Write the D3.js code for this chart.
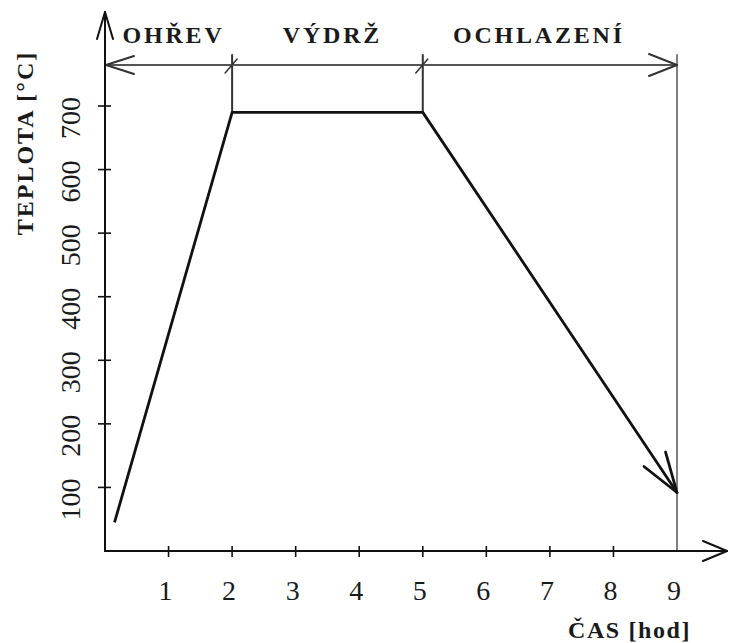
<!DOCTYPE html>
<html>
<head>
<meta charset="utf-8">
<script src="https://cdn.jsdelivr.net/npm/d3@7"></script>
<style>
  body { margin: 0; background: #fff; }
  text { font-family: "Liberation Serif", "Times New Roman", serif; fill: #1a1a1a; }
</style>
</head>
<body>
<script>
'use strict';

// data
const phases = ['OHŘEV', 'VÝDRŽ', 'OCHLAZENÍ'];
const phaseBounds = [0, 2, 5, 9];
const times = [0.15, 2, 5, 9];
const temps = [45, 690, 690, 92];
const xTicks = [1, 2, 3, 4, 5, 6, 7, 8, 9];
const yTicks = [100, 200, 300, 400, 500, 600, 700];
const xTitle = 'ČAS [hod]';
const yTitle = 'TEPLOTA [°C]';

const W = 733, H = 643;
const AXIS_TOP = 12, AXIS_RIGHT = 727, BAND_Y = 65;

let x = d3.scaleLinear().domain([0, 9]).range([105, 677]);
let y = d3.scaleLinear().domain([0, 700]).range([551, 106]);

let svg = d3.select('body').append('svg')
  .attr('width', W)
  .attr('height', H);

function line(g, x1, y1, x2, y2, color, width) {
  return g.append('line')
    .attr('x1', x1).attr('y1', y1)
    .attr('x2', x2).attr('y2', y2)
    .attr('stroke', color)
    .attr('stroke-width', width)
    .attr('stroke-linecap', 'round');
}

// open arrow head: tip at (tx,ty), coming from direction (fx,fy)
function arrowHead(g, tx, ty, fx, fy, len, half, color, width) {
  let dx = tx - fx, dy = ty - fy;
  let n = Math.sqrt(dx * dx + dy * dy);
  dx /= n; dy /= n;
  let bx = tx - dx * len, by = ty - dy * len;
  line(g, tx, ty, bx - dy * half, by + dx * half, color, width);
  line(g, tx, ty, bx + dy * half, by - dx * half, color, width);
}

let g = svg.append('g');

// phase band: verticals, double arrow, slashes
phaseBounds.slice(1).forEach(function(t, i) {
  let last = i === phaseBounds.length - 2;
  line(g, x(t), BAND_Y - 10, x(t), last ? y(0) : y(temps[i + 1]),
    last ? '#808080' : '#333', 2);
});
line(g, x(0), BAND_Y, x(9), BAND_Y, '#555', 2.2);
arrowHead(g, x(0) + 1, BAND_Y, x(9), BAND_Y, 28, 9, '#333', 2);
arrowHead(g, x(9), BAND_Y, x(0), BAND_Y, 28, 11, '#333', 2);
[2, 5].forEach(function(t) {
  line(g, x(t) - 7, BAND_Y + 8, x(t) + 5, BAND_Y - 6, '#333', 1.5);
});

g.selectAll('.phase')
  .data(phases)
  .enter().append('text')
    .attr('class', 'phase')
    .attr('x', function(d, i) {
      let mid = (x(phaseBounds[i]) + x(phaseBounds[i + 1])) / 2;
      return i === 2 ? mid - 11 : mid + 5;
    })
    .attr('y', 43)
    .attr('text-anchor', 'middle')
    .attr('font-size', 24)
    .attr('font-weight', 'bold')
    .attr('letter-spacing', 2.8)
    .text(function(d) { return d; });

// axes
line(g, x(0), y(0), x(0), AXIS_TOP, '#111', 2);
arrowHead(g, x(0), AXIS_TOP, x(0), y(0), 27, 8, '#111', 2);
line(g, x(0), y(0), AXIS_RIGHT, y(0), '#111', 2);
arrowHead(g, AXIS_RIGHT, y(0), x(0), y(0), 24, 10, '#111', 2);

g.selectAll('.xtick')
  .data(xTicks.slice(0, -1))
  .enter().append('line')
    .attr('class', 'xtick')
    .attr('x1', function(d) { return x(d); })
    .attr('x2', function(d) { return x(d); })
    .attr('y1', y(0) - 5)
    .attr('y2', y(0) + 6)
    .attr('stroke', '#111')
    .attr('stroke-width', 1.6);

g.selectAll('.ytick')
  .data(yTicks)
  .enter().append('line')
    .attr('class', 'ytick')
    .attr('x1', x(0) - 7)
    .attr('x2', x(0) + 6)
    .attr('y1', function(d) { return y(d); })
    .attr('y2', function(d) { return y(d); })
    .attr('stroke', '#111')
    .attr('stroke-width', 1.6);

g.selectAll('.xlab')
  .data(xTicks)
  .enter().append('text')
    .attr('class', 'xlab')
    .attr('x', function(d) { return x(d) - 3; })
    .attr('y', 600)
    .attr('text-anchor', 'middle')
    .attr('font-size', 28)
    .text(function(d) { return d; });

g.selectAll('.ylab')
  .data(yTicks)
  .enter().append('text')
    .attr('class', 'ylab')
    .attr('transform', function(d) {
      return 'translate(80,' + (y(d) + 12) + ') rotate(-90)';
    })
    .attr('text-anchor', 'middle')
    .attr('font-size', 28)
    .text(function(d) { return d; });

g.append('text')
  .attr('x', 568)
  .attr('y', 638)
  .attr('font-size', 24)
  .attr('font-weight', 'bold')
  .attr('letter-spacing', 1.6)
  .text(xTitle);

g.append('text')
  .attr('transform', 'translate(33,143) rotate(-90)')
  .attr('text-anchor', 'middle')
  .attr('font-size', 24)
  .attr('font-weight', 'bold')
  .attr('letter-spacing', 2)
  .text(yTitle);

// temperature curve
let pts = times.map(function(t, i) { return [x(t), y(temps[i])]; });
g.append('path')
  .attr('d', d3.line()(pts))
  .attr('fill', 'none')
  .attr('stroke', '#111')
  .attr('stroke-width', 2.8)
  .attr('stroke-linejoin', 'round');
let n = pts.length;
arrowHead(g, pts[n - 1][0], pts[n - 1][1], pts[n - 2][0], pts[n - 2][1],
  40, 13, '#111', 2.8);
</script>
</body>
</html>
